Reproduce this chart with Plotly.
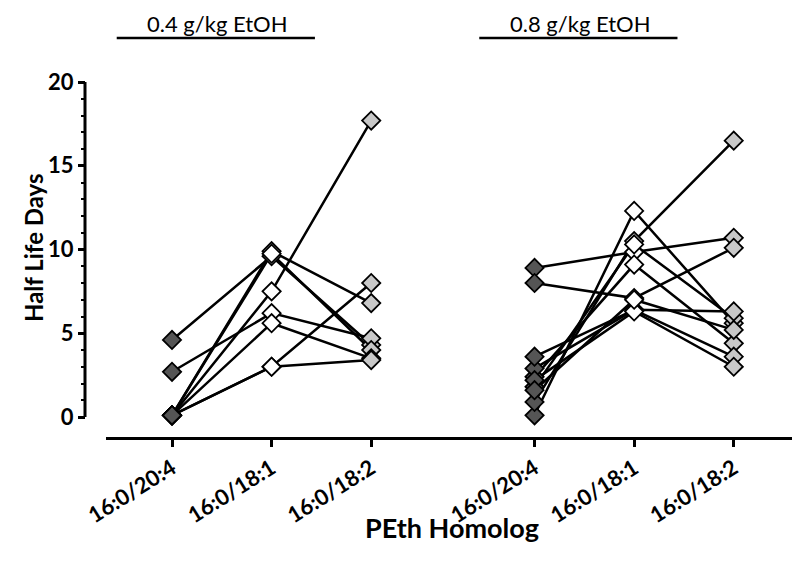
import plotly.graph_objects as go

# ---------------- data ----------------
categories = ["16:0/20:4", "16:0/18:1", "16:0/18:2"]
group_labels = ["0.4 g/kg EtOH", "0.8 g/kg EtOH"]

# 0.4 g/kg EtOH, one entry per subject
low_204 = [4.6, 2.7, 0.1, 0.1, 0.1, 0.1, 0.1, 0.1]
low_181 = [9.6, 6.2, 9.9, 9.75, 7.5, 5.6, 3.0, 3.0]
low_182 = [4.3, 4.7, 6.8, 4.0, 17.7, 3.5, 8.0, 3.4]

# 0.8 g/kg EtOH, one entry per subject
high_204 = [8.9, 8.0, 0.1, 0.9, 1.8, 2.4, 2.9, 3.6, 2.2, 1.6]
high_181 = [9.85, 7.1, 12.3, 10.5, 10.3, 9.1, 6.4, 6.4, 6.3, 7.0]
high_182 = [10.7, 10.1, 5.6, 16.5, 5.9, 4.4, 6.3, 3.6, 3.0, 5.2]

y_ticks = [0, 5, 10, 15, 20]

# ---------------- layout helpers ----------------
W, H = 800, 566
OFF = 8  # page body margin
GROUP_GAP = 3.64
def px_x(p):
    return (p - OFF) / W
def px_y(p):
    return 1 - (p - OFF) / H

colors = ["#555555", "#ffffff", "#c8c8c8"]
FONT = "Lato"

fig = go.Figure()

groups = [(0.0, low_204, low_181, low_182), (GROUP_GAP, high_204, high_181, high_182)]

# lines first
for off, a, b, c in groups:
    xs, ys = [], []
    for i in range(len(a)):
        xs += [off + 0, off + 1, off + 2, None]
        ys += [a[i], b[i], c[i], None]
    fig.add_trace(go.Scatter(x=xs, y=ys, mode="lines",
                             line=dict(color="black", width=2.5),
                             hoverinfo="skip", showlegend=False))

# markers on top
for off, a, b, c in groups:
    for k, vals in enumerate([a, b, c]):
        fig.add_trace(go.Scatter(x=[off + k] * len(vals), y=vals, mode="markers",
                                 marker=dict(symbol="diamond", size=14, color=colors[k],
                                             line=dict(color="black", width=1.8)),
                                 cliponaxis=False, showlegend=False))

tickvals = [i for i in range(3)] + [GROUP_GAP + i for i in range(3)]
ticktext = ["<b>%s</b>" % t for t in categories + categories]

x_left_px, x_right_px = 106, 808
x0_px, unit_px = 172, 99.6
xr = [-(x0_px - x_left_px) / unit_px, (x_right_px - x0_px) / unit_px]

y0_px, y20_px, ybot_px = 417, 82, 437
upp = (y0_px - y20_px) / 20.0
yr = [-(ybot_px - y0_px) / upp, 20]

minor_vals = [v for v in range(0, 21) if v % 5 != 0]

fig.update_layout(
    width=W, height=H,
    margin=dict(l=0, r=0, t=0, b=0, autoexpand=False),
    paper_bgcolor="white", plot_bgcolor="white",
    font=dict(family=FONT, color="black"),
    xaxis=dict(domain=[px_x(x_left_px), px_x(x_right_px)], range=xr,
               showline=True, linewidth=3, linecolor="black",
               ticks="outside", ticklen=7, tickwidth=3, tickcolor="black",
               tickvals=tickvals, ticktext=ticktext, tickangle=-32,
               tickfont=dict(family=FONT, size=22, color="black"),
               showgrid=False, zeroline=False, automargin=False),
    yaxis=dict(domain=[px_y(ybot_px), px_y(y20_px)], range=yr,
               anchor="free", position=px_x(85),
               showline=False,
               ticks="outside", ticklen=7, tickwidth=3, tickcolor="black",
               tickvals=y_ticks, ticktext=["<b>%d</b>" % v for v in y_ticks],
               minor=dict(tickvals=minor_vals, ticks="outside", ticklen=4, tickwidth=2,
                          tickcolor="black"),
               tickfont=dict(family=FONT, size=22, color="black"),
               showgrid=False, zeroline=False, automargin=False),
)

# y axis line only from 0 to 20
fig.add_shape(type="line", xref="paper", yref="y", x0=px_x(85), x1=px_x(85),
              y0=0, y1=20, line=dict(color="black", width=3))

# group labels and bars
for off, lab in zip([0.0, GROUP_GAP], group_labels):
    fig.add_annotation(x=off + 0.46, y=1.0, xref="x", yref="paper", text=lab,
                       xanchor="center", yanchor="top",
                       showarrow=False, font=dict(family=FONT, size=22, color="black"))
    fig.add_shape(type="line", xref="x", yref="paper", x0=off - 0.555, x1=off + 1.435,
                  y0=px_y(38), y1=px_y(38), line=dict(color="black", width=2.5))

# axis titles
fig.add_annotation(x=px_x(452), y=px_y(527), xref="paper", yref="paper",
                   text="<b>PEth Homolog</b>", xanchor="center", yanchor="middle",
                   showarrow=False, font=dict(family=FONT, size=27, color="black"))
fig.add_annotation(x=px_x(33), y=px_y(248), xref="paper", yref="paper",
                   text="<b>Half Life Days</b>", xanchor="center", yanchor="middle",
                   textangle=-90, showarrow=False,
                   font=dict(family=FONT, size=24, color="black"))

fig.write_html("out.html")
